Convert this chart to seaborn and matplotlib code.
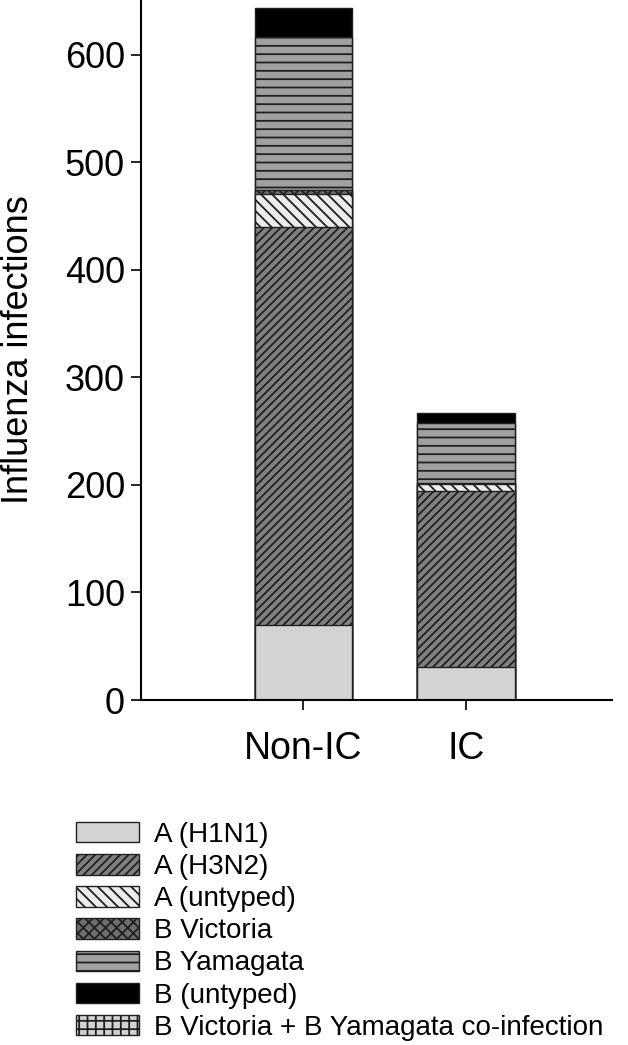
import matplotlib
matplotlib.use("Agg")
import matplotlib.pyplot as plt
from matplotlib.patches import Patch
import seaborn as sns
import pandas as pd

# groups on the x axis
groups = ["Non-IC", "IC"]

# infections per virus type, stacked bottom to top
subtypes = [
    "A (H1N1)",
    "A (H3N2)",
    "A (untyped)",
    "B Victoria",
    "B Yamagata",
    "B (untyped)",
    "B Victoria + B Yamagata co-infection",
]
non_ic = [70, 370, 31, 3, 143, 27, 0]
ic = [31, 163, 7, 1, 56, 9, 0]

# fill colour and hatch per subtype
fills = ["#d3d3d3", "#808080", "#ececec", "#6e6e6e", "#a0a0a0", "#000000", "#d3d3d3"]
hatches = [None, "////", "\\\\\\", "xxx", "--", None, "++"]

sns.set_style("white")
plt.rcParams["font.family"] = ["Liberation Sans", "DejaVu Sans"]
plt.rcParams["text.color"] = "black"
plt.rcParams["axes.labelcolor"] = "black"
plt.rcParams["hatch.linewidth"] = 1.3
plt.rcParams["hatch.color"] = "black"

fig = plt.figure(figsize=(6.28, 10.45), dpi=100)
ax = fig.add_axes([141 / 628, 1 - 700 / 1045, 471 / 628, 700 / 1045])

# cumulative heights, drawn tallest first so lower layers cover upper ones
df = pd.DataFrame({"group": groups * len(subtypes),
                   "subtype": [s for s in subtypes for _ in groups],
                   "count": [v for pair in zip(non_ic, ic) for v in pair]})
df["cum"] = df.groupby("group", sort=False)["count"].cumsum()

for i in reversed(range(len(subtypes))):
    part = df[df["subtype"] == subtypes[i]]
    if part["count"].sum() == 0:
        continue
    sns.barplot(data=part, x="group", y="cum", order=groups, ax=ax,
                color=fills[i], width=0.6, saturation=1,
                edgecolor="#202020", linewidth=1.0, hatch=hatches[i])

ax.set_xlim(-1.0, 1.9)
ax.set_ylim(0, 651)
ax.set_yticks([0, 100, 200, 300, 400, 500, 600])
ax.set_xlabel("")
ax.set_ylabel("Influenza infections", fontsize=26, color="black")
ax.yaxis.set_label_coords(-0.222, 0.5)

for side in ["top", "right"]:
    ax.spines[side].set_visible(False)
for side in ["left", "bottom"]:
    ax.spines[side].set_color("black")
    ax.spines[side].set_linewidth(1.5)

ax.tick_params(axis="x", direction="out", length=7.5, width=1.2, labelsize=27,
               pad=15, bottom=True, colors="black")
ax.tick_params(axis="y", direction="out", length=7.5, width=1.2, labelsize=26,
               pad=4, left=True, colors="black")

handles = [Patch(facecolor=fills[i], edgecolor="#202020", hatch=hatches[i],
                 linewidth=1.0, label=subtypes[i]) for i in range(len(subtypes))]
fig.legend(handles=handles, loc="upper left", bbox_to_anchor=(76 / 628, 1 - 822 / 1045),
           frameon=False, fontsize=20, handlelength=2.25, handleheight=0.75,
           handletextpad=0.55, labelspacing=0.22, borderpad=0, borderaxespad=0,
           labelcolor="black")

fig.savefig("out.png", dpi=100)
